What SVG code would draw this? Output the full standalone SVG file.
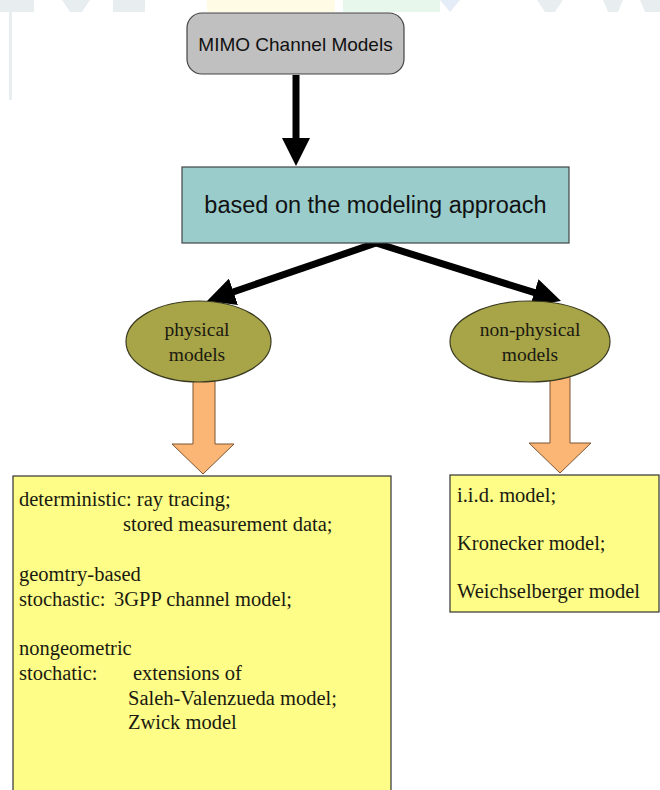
<svg xmlns="http://www.w3.org/2000/svg" width="660" height="790" viewBox="0 0 660 790">
<style>
.sans{font-family:"Liberation Sans",Arial,sans-serif;fill:#111}
.serif{font-family:"Liberation Serif","Times New Roman",serif;fill:#1a1a10;font-size:20.5px}
.oval{font-family:"Liberation Serif","Times New Roman",serif;fill:#1a1a10;font-size:19.5px;text-anchor:middle}
.conn{stroke:#000;stroke-width:7;fill:none}
.orange{fill:#fbb676;stroke:#7a5530;stroke-width:1}
.yellow{fill:#fdfd88;stroke:#333;stroke-width:1.2}
.olive{fill:#a8a448;stroke:#3a3a20;stroke-width:1.2}
</style>
<defs>
<marker id="ah" viewBox="0 0 28 28" refX="2" refY="14" markerWidth="28" markerHeight="28" markerUnits="userSpaceOnUse" orient="auto">
<path d="M0,0 L28,14 L0,28 z" fill="#000"/>
</marker>
</defs>
<rect width="660" height="790" fill="#fff"/>
<g id="watermark" opacity="0.9">
<polygon points="0,0 34,0 34,12 0,12" fill="#e6ecef"/>
<polygon points="62,0 90,0 82,12 70,12" fill="#e6ecef"/>
<polygon points="113,0 145,0 145,12 113,12" fill="#e6ecef"/>
<polygon points="207,0 335,0 335,12 207,12" fill="#fffbe2"/>
<polygon points="343,0 440,0 440,12 343,12" fill="#e5f7e9"/>
<polygon points="440,0 460,0 450,12" fill="#e2ecf7"/>
<polygon points="537,0 563,0 555,12 545,12" fill="#e6ecef"/>
<polygon points="603,0 623,0 618,12 608,12" fill="#e6ecef"/>
<polygon points="640,0 660,0 660,12 645,12" fill="#e6ecef"/>
<rect x="9" y="12" width="3" height="88" fill="#e6ecef"/>
</g>
<g id="connectors">
<line class="conn" x1="296" y1="75" x2="296" y2="140" marker-end="url(#ah)"/>
<line class="conn" x1="376" y1="243" x2="231.6" y2="292.5" marker-end="url(#ah)"/>
<line class="conn" x1="376" y1="243" x2="536.2" y2="293.2" marker-end="url(#ah)"/>
<path class="orange" d="M193,375 L215,375 L215,444 L234,444 L203,474 L172,444 L193,444 Z"/>
<path class="orange" d="M550,375 L570,375 L570,443 L591,443 L560,473 L529,443 L550,443 Z"/>
</g>
<g id="mimo">
<rect x="187" y="13" width="217" height="61" rx="15" ry="15" fill="#c0c0c0" stroke="#444" stroke-width="1.2"/>
<text class="sans" x="295.5" y="51" font-size="19" text-anchor="middle">MIMO Channel Models</text>
</g>
<g id="approach">
<rect x="182" y="167" width="387" height="76" fill="#9acccc" stroke="#444" stroke-width="1.2"/>
<text class="sans" x="375.5" y="213" font-size="23.5" text-anchor="middle">based on the modeling approach</text>
</g>
<g id="physical">
<ellipse class="olive" cx="198.5" cy="341.5" rx="72.5" ry="40.5"/>
<text class="oval" x="197" y="336">physical</text>
<text class="oval" x="197" y="361">models</text>
</g>
<g id="nonphysical">
<ellipse class="olive" cx="530" cy="341.5" rx="80" ry="40.5"/>
<text class="oval" x="530" y="336">non-physical</text>
<text class="oval" x="530" y="361">models</text>
</g>
<g id="physical-list">
<rect class="yellow" x="13" y="476" width="378" height="330"/>
<text class="serif" x="19" y="506">deterministic: ray tracing;</text>
<text class="serif" x="123" y="531">stored measurement data;</text>
<text class="serif" x="19" y="581">geomtry-based</text>
<text class="serif" x="19" y="606">stochastic:</text>
<text class="serif" x="114" y="606">3GPP channel model;</text>
<text class="serif" x="19" y="655">nongeometric</text>
<text class="serif" x="19" y="680">stochatic:</text>
<text class="serif" x="133" y="680">extensions of</text>
<text class="serif" x="128" y="705">Saleh-Valenzueda model;</text>
<text class="serif" x="128" y="729">Zwick model</text>
</g>
<g id="nonphysical-list">
<rect class="yellow" x="450" y="475" width="209" height="137"/>
<text class="serif" x="457" y="502">i.i.d. model;</text>
<text class="serif" x="457" y="550">Kronecker model;</text>
<text class="serif" x="457" y="598">Weichselberger model</text>
</g>
</svg>
